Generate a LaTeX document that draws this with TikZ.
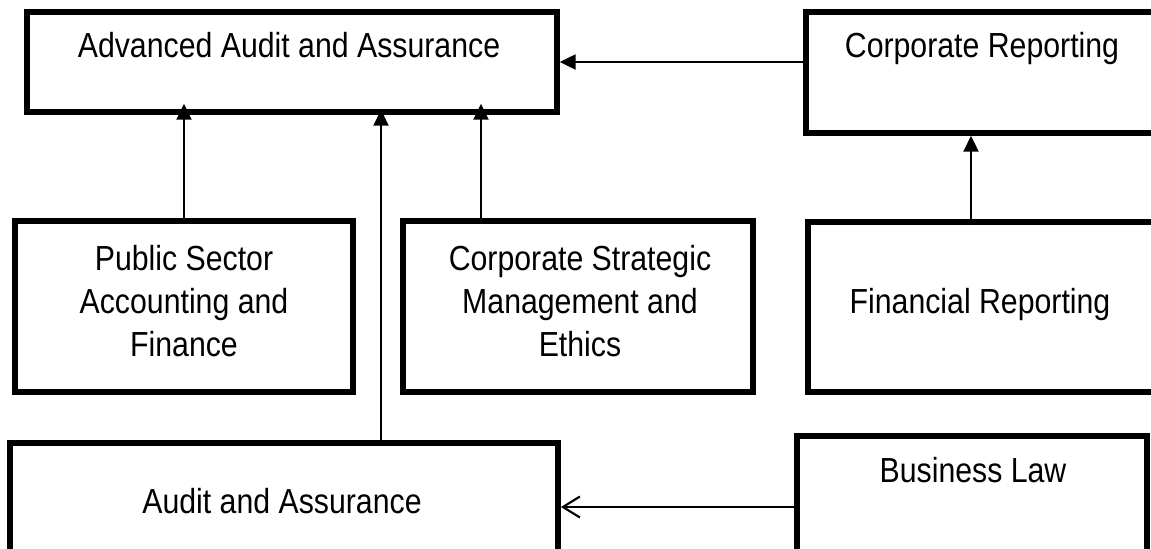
\documentclass[tikz,border=0pt]{standalone}
\usepackage{fontspec}
\setmainfont{Liberation Sans}[FakeStretch=0.87]
\usepackage{tikz}
\usetikzlibrary{arrows.meta}

\begin{document}
\begin{tikzpicture}[x=0.02cm, y=-0.02cm,
        box/.style={draw, line width=3.1pt, inner sep=0pt},
        label text/.style={anchor=north, inner sep=0pt, align=center,
            font=\fontsize{19.8}{24.4}\selectfont},
        solid arrow/.style={line width=1.2pt, -{Triangle[length=0.32cm, width=0.3cm]}},
        open arrow/.style={line width=1.2pt, -{Straight Barb[length=0.34cm, width=0.42cm]}}]
        \useasboundingbox (0,0) rectangle (1151,548);
        \clip (0,0) rectangle (1151,548);

        % Boxes.
        \draw (292,62) node[box, minimum width=10.6cm, minimum height=2cm] (aaa) {}
            (982,72.5) node[box, minimum width=7.04cm, minimum height=2.42cm] (cr) {}
            (184,306.5) node[box, minimum width=6.76cm, minimum height=3.42cm] (psaf) {}
            (578,306.5) node[box, minimum width=7cm, minimum height=3.42cm] (csme) {}
            (983,307) node[box, minimum width=7cm, minimum height=3.4cm] (fr) {}
            (284,501.5) node[box, minimum width=10.97cm, minimum height=2.34cm] (aa) {}
            (972,498) node[box, minimum width=7cm, minimum height=2.48cm] (bl) {};

        % Box texts.
        \draw (289,32) node[label text] (aaatext) {Advanced Audit and Assurance}
            (982,32) node[label text] (crtext) {Corporate Reporting}
            (184,245) node[label text] (psaftext) {Public Sector\\Accounting and\\Finance}
            (580,245) node[label text] (csmetext) {Corporate Strategic\\Management and\\Ethics}
            (980,288) node[label text] (frtext) {Financial Reporting}
            (282,488) node[label text] (aatext) {Audit and Assurance}
            (973,457) node[label text] (bltext) {Business Law};

        % Connections.
        \draw[solid arrow] (cr.west |- aaa.east) -- (aaa.east);
        \draw[solid arrow, shorten >=-0.22cm] (psaf.north) -- (psaf.north |- aaa.south);
        \draw[solid arrow, shorten >=-0.22cm] (csme.north -| 481,0) -- (aaa.south -| 481,0);
        \draw[solid arrow, shorten >=-0.1cm] (aa.north -| 381,0) -- (aaa.south -| 381,0);
        \draw[solid arrow] (fr.north -| 971,0) -- (cr.south -| 971,0);
        \draw[open arrow] (bl.west |- 0,507) -- (aa.east |- 0,507);
    \end{tikzpicture}
\end{document}
